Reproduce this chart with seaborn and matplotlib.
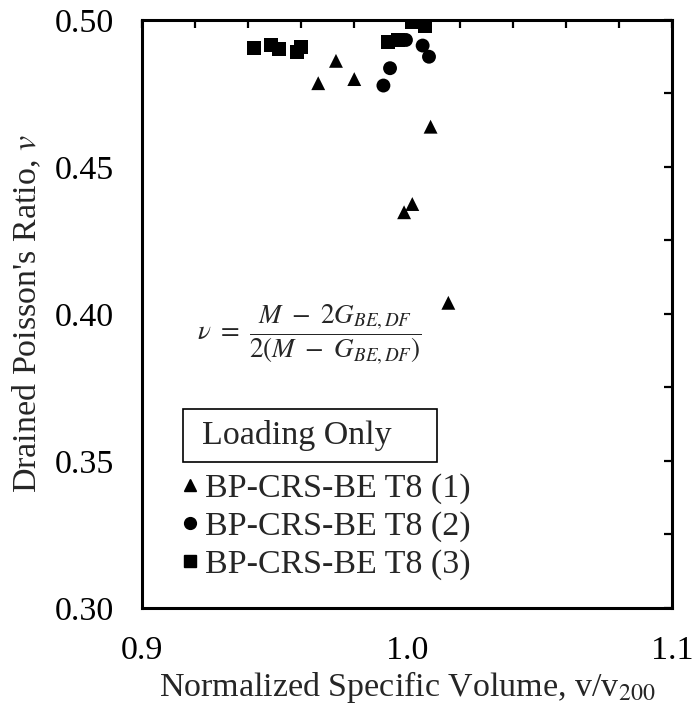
import pandas as pd
import seaborn as sns
import matplotlib.pyplot as plt
from matplotlib.patches import Rectangle

# Data
t1_x = [0.9665, 0.9732, 0.9801, 1.0089, 1.0020, 0.9989, 1.0156]
t1_y = [0.4785, 0.4861, 0.4799, 0.4637, 0.4374, 0.4346, 0.4038]

t2_x = [0.9911, 0.9936, 0.9996, 1.0059, 1.0083]
t2_y = [0.4777, 0.4836, 0.4932, 0.4913, 0.4875]

t3_x = [0.9424, 0.9487, 0.9517, 0.9586, 0.9600, 0.9929, 0.9967, 1.0018, 1.0068]
t3_y = [0.4904, 0.4915, 0.4900, 0.4892, 0.4907, 0.4926, 0.4932, 0.4994, 0.4980]

labels = ["BP-CRS-BE T8 (1)", "BP-CRS-BE T8 (2)", "BP-CRS-BE T8 (3)"]

df = pd.concat([
    pd.DataFrame({"x": t1_x, "y": t1_y, "test": labels[0]}),
    pd.DataFrame({"x": t2_x, "y": t2_y, "test": labels[1]}),
    pd.DataFrame({"x": t3_x, "y": t3_y, "test": labels[2]}),
])

sns.set_theme(style="white")
plt.rcParams['font.family'] = ['Liberation Serif', 'DejaVu Serif']
plt.rcParams['mathtext.fontset'] = 'stix'

FS = 24.5

fig = plt.figure(figsize=(6.93, 7.11), dpi=100)
ax = fig.add_axes([0.2049, 0.1449, 0.7648, 0.8270])

sns.scatterplot(data=df, x="x", y="y", style="test",
                markers={labels[0]: "^", labels[1]: "o", labels[2]: "s"},
                color="black", s=100, edgecolor="none", ax=ax, legend=False)

ax.set_xlim(0.9, 1.1)
ax.set_ylim(0.30, 0.50)
ax.set_xticks([0.9, 1.0, 1.1])
ax.set_xticklabels(["0.9", "1.0", "1.1"])
ax.set_xticks([0.9 + 0.02 * i for i in range(11)], minor=True)
ax.set_yticks([0.30, 0.35, 0.40, 0.45, 0.50])
ax.set_yticklabels(["0.30", "0.35", "0.40", "0.45", "0.50"])
ax.set_yticks([0.30 + 0.025 * i for i in range(9)], minor=True)

for side in ax.spines.values():
    side.set_linewidth(2.2)
    side.set_color("black")

ax.tick_params(which="both", direction="in", top=True, right=True,
               width=1.6, length=5.5, colors="black", labelsize=FS)
ax.tick_params(axis="y", which="major", pad=20)
ax.tick_params(axis="x", which="major", pad=20)

ax.set_xlabel("Normalized Specific Volume, v/v$_{200}$", fontsize=FS, labelpad=2)
ax.set_ylabel("Drained Poisson's Ratio, $\\it{v}$", fontsize=FS, labelpad=8)

# equation annotation
ax.text(0.104, 0.464,
        r"$\nu\ =\ \dfrac{M\ -\ 2G_{BE,DF}}{2(M\ -\ G_{BE,DF})}$",
        transform=ax.transAxes, fontsize=19.5, ha="left", va="center")

# "Loading Only" box
ax.add_patch(Rectangle((0.0774, 0.248), 0.479, 0.090, transform=ax.transAxes,
                       fc="white", ec="black", lw=1.2, zorder=3))
ax.text(0.113, 0.293, "Loading Only", transform=ax.transAxes, fontsize=FS,
        ha="left", va="center", zorder=4)

handles = [plt.Line2D([], [], marker=m, color="black", linestyle="none", markersize=8.5)
           for m in ["^", "o", "s"]]
ax.legend(handles, labels, loc="upper left", bbox_to_anchor=(0.077, 0.2296),
          frameon=False, fontsize=FS, handlelength=0.4, handletextpad=0.25,
          labelspacing=0.2, borderaxespad=0, borderpad=0)

fig.savefig("out.png", dpi=100)
